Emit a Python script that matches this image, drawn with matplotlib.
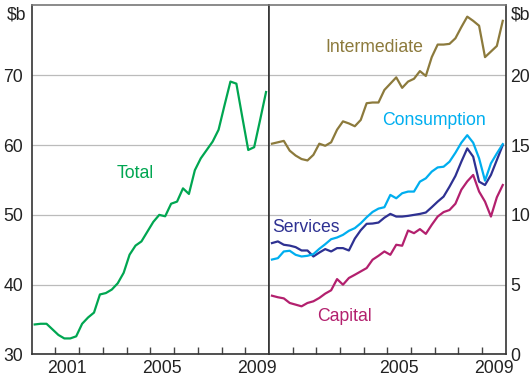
import matplotlib
matplotlib.use("Agg")
import matplotlib.pyplot as plt
import numpy as np
import pandas as pd

plt.rcParams['font.family'] = ['Liberation Sans', 'DejaVu Sans']

# quarterly, 2000Q1 - 2009Q4
quarters = pd.period_range('2000Q1', '2009Q4', freq='Q')

total = [34.3, 34.4, 34.4, 33.6, 32.8, 32.3, 32.3, 32.6, 34.4, 35.3,
         36.0, 38.6, 38.8, 39.3, 40.2, 41.7, 44.3, 45.6, 46.2, 47.6,
         49.0, 50.0, 49.8, 51.6, 51.9, 53.8, 53.0, 56.4, 58.1, 59.3,
         60.5, 62.2, 65.7, 69.1, 68.8, 64.0, 59.3, 59.7, 63.6, 67.6]

intermediate = [15.1, 15.2, 15.3, 14.6, 14.25, 14.0, 13.9, 14.3, 15.1, 14.95,
                15.2, 16.1, 16.7, 16.55, 16.35, 16.8, 18.0, 18.05, 18.05, 18.95,
                19.4, 19.85, 19.1, 19.55, 19.75, 20.3, 19.95, 21.3, 22.2, 22.2,
                22.25, 22.65, 23.45, 24.2, 23.9, 23.55, 21.3, 21.7, 22.1, 23.9]

consumption = [6.8, 6.9, 7.38, 7.43, 7.14, 7.02, 7.07, 7.19, 7.57, 7.9,
               8.26, 8.38, 8.57, 8.86, 9.05, 9.4, 9.83, 10.21, 10.45, 10.55,
               11.43, 11.19, 11.55, 11.67, 11.67, 12.38, 12.62, 13.1, 13.4, 13.45,
               13.81, 14.45, 15.17, 15.71, 15.17, 14.05, 12.45, 13.69, 14.4, 15.07]

services = [7.98, 8.1, 7.86, 7.8, 7.69, 7.45, 7.45, 7.02, 7.3, 7.55,
            7.38, 7.62, 7.62, 7.45, 8.3, 8.9, 9.36, 9.38, 9.45, 9.8,
            10.07, 9.88, 9.88, 9.93, 10.0, 10.07, 10.17, 10.55, 10.95, 11.31,
            12.02, 12.79, 13.81, 14.76, 14.17, 12.38, 12.14, 12.86, 13.93, 15.0]

capital = [4.21, 4.1, 4.02, 3.69, 3.57, 3.45, 3.69, 3.81, 4.05, 4.36,
           4.6, 5.4, 5.0, 5.48, 5.71, 5.95, 6.19, 6.79, 7.07, 7.38,
           7.14, 7.86, 7.79, 8.88, 8.69, 8.98, 8.64, 9.29, 9.88, 10.2,
           10.35, 10.8, 11.8, 12.4, 12.86, 11.67, 10.95, 9.88, 11.26, 12.14]

# mid-quarter decimal year
x = np.array([q.year + (q.quarter - 0.5) / 4 for q in quarters])

green = '#00A651'
olive = '#8C7A3C'
cyan = '#00AEEF'
navy = '#2E3192'
magenta = '#B3206E'
fs = 12.7

fig = plt.figure(figsize=(5.31, 3.81), dpi=100)
axL = fig.add_axes([0.0597, 0.0696, 0.4469, 0.916])
axR = fig.add_axes([0.5066, 0.0696, 0.4458, 0.916])

axL.plot(x, total, color=green, lw=1.6)
axR.plot(x, intermediate, color=olive, lw=1.6)
axR.plot(x, capital, color=magenta, lw=1.6)
axR.plot(x, services, color=navy, lw=1.6)
axR.plot(x, consumption, color=cyan, lw=1.6)

axL.set_ylim(30, 80)
axR.set_ylim(0, 25)

for ax in (axL, axR):
    ax.set_xlim(2000, 2010)
    ax.set_xticks(np.arange(2001, 2010))
    ax.set_xticklabels([])
    ax.tick_params(axis='x', which='major', direction='in', length=5,
                   width=1, color='#444444')
    ax.tick_params(axis='x', which='minor', length=0, pad=4,
                   labelsize=fs, labelcolor='#222222')
    ax.tick_params(axis='y', length=0, labelsize=fs, labelcolor='#222222', pad=6)
    for s in ('left', 'right', 'bottom'):
        ax.spines[s].set_color('#333333')
        ax.spines[s].set_linewidth(1.2)
    ax.spines['top'].set_color('#777777')
    ax.spines['top'].set_linewidth(1.2)
    ax.set_axisbelow(True)
    ax.grid(axis='y', color='#BBBBBB', lw=0.9)
    ax.grid(axis='x', visible=False)

axL.set_xticks([2001.5, 2005.5, 2009.5], minor=True)
axL.set_xticklabels(['2001', '2005', '2009'], minor=True)
axR.set_xticks([2005.5, 2009.5], minor=True)
axR.set_xticklabels(['2005', '2009'], minor=True)

axL.set_yticks([30, 40, 50, 60, 70])
axR.set_yticks([0, 5, 10, 15, 20])
axR.yaxis.tick_right()
axR.tick_params(axis='y', length=0, pad=3.4)

# series labels
axL.text(2004.37, 56.0, 'Total', color=green, fontsize=fs, ha='center', va='center')
axR.text(2004.44, 21.96, 'Intermediate', color=olive, fontsize=fs, ha='center', va='center')
axR.text(2006.99, 16.73, 'Consumption', color=cyan, fontsize=fs, ha='center', va='center')
axR.text(2001.54, 9.13, 'Services', color=navy, fontsize=fs, ha='center', va='center')
axR.text(2003.19, 2.72, 'Capital', color=magenta, fontsize=fs, ha='center', va='center')

# units
fig.text(16.5 / 531, 1 - 15 / 381, '$b', fontsize=fs, color='#222222', ha='center', va='center')
fig.text(521 / 531, 1 - 15 / 381, '$b', fontsize=fs, color='#222222', ha='center', va='center')

fig.savefig('out.png', dpi=100)
